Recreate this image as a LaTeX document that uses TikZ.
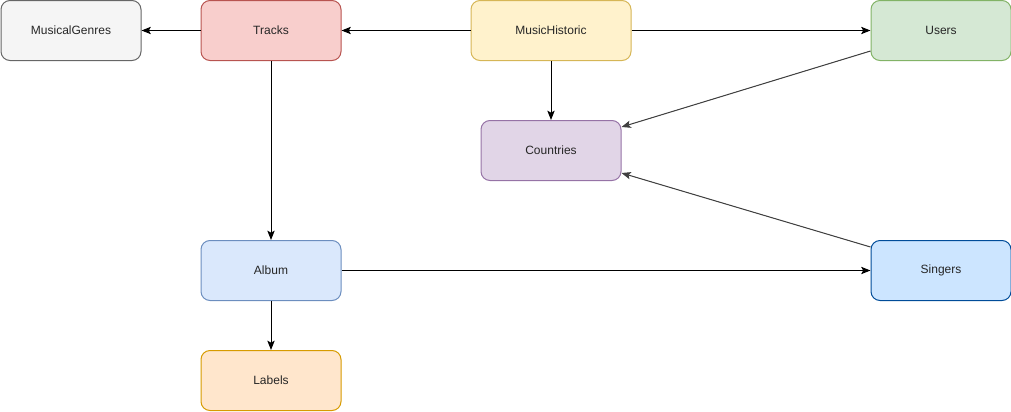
\documentclass[tikz,border=0pt]{standalone}
\usepackage{fontspec}
\setmainfont{Liberation Sans}
\usetikzlibrary{arrows.meta}
\definecolor{grayF}{HTML}{F5F5F5}\definecolor{grayS}{HTML}{666666}
\definecolor{redF}{HTML}{F8CECC}\definecolor{redS}{HTML}{B85450}
\definecolor{yelF}{HTML}{FFF2CC}\definecolor{yelS}{HTML}{D6B656}
\definecolor{grnF}{HTML}{D5E8D4}\definecolor{grnS}{HTML}{82B366}
\definecolor{purF}{HTML}{E1D5E7}\definecolor{purS}{HTML}{9673A6}
\definecolor{bluF}{HTML}{DAE8FC}\definecolor{bluS}{HTML}{6C8EBF}
\definecolor{sngF}{HTML}{CCE5FF}\definecolor{sngS}{HTML}{004C99}
\definecolor{orgF}{HTML}{FFE6CC}\definecolor{orgS}{HTML}{D79B00}
\definecolor{edgeG}{HTML}{404040}
\begin{document}
\begin{tikzpicture}[x=0.75pt,y=-0.75pt,
  box/.style={draw,rounded corners=6.75pt,line width=0.75pt,minimum width=105pt,minimum height=45pt,inner sep=0pt,font=\fontsize{9}{11}\selectfont,text=black!85},
  conn/.style={line width=0.75pt,-{Stealth[length=7pt,width=5.5pt,inset=1.5pt]}},
  gconn/.style={conn,draw=edgeG,fill=black}]
\useasboundingbox (0,0) rectangle (1011,411);
\node[box,fill=grayF,draw=grayS] (genres) at (71,30.5) {MusicalGenres};
\node[box,fill=redF,draw=redS] (tracks) at (271,30.5) {Tracks};
\node[box,fill=yelF,draw=yelS,minimum width=120pt] (hist) at (551,30.5) {MusicHistoric};
\node[box,fill=grnF,draw=grnS] (users) at (941,30.5) {Users};
\node[box,fill=purF,draw=purS] (countries) at (551,150.5) {Countries};
\node[box,fill=bluF,draw=bluS] (album) at (271,270.5) {Album};
\node[box,fill=sngF,draw=sngS] (singers) at (941,270.5) {Singers};
\node[box,fill=orgF,draw=orgS] (labels) at (271,380.5) {Labels};
\draw[conn] (tracks) -- (genres);
\draw[conn] (hist) -- (tracks);
\draw[conn] (hist) -- (users);
\draw[conn] (hist.south) -- (countries.north);
\draw[conn] (tracks) -- (album);
\draw[conn] (album) -- (singers);
\draw[conn] (album) -- (labels);
\draw[gconn] ([yshift=7.5pt]users.south west) -- ([yshift=-5.25pt]countries.north east);
\draw[gconn] ([yshift=-5.25pt]singers.north west) -- ([yshift=6pt]countries.south east);
\end{tikzpicture}
\end{document}
